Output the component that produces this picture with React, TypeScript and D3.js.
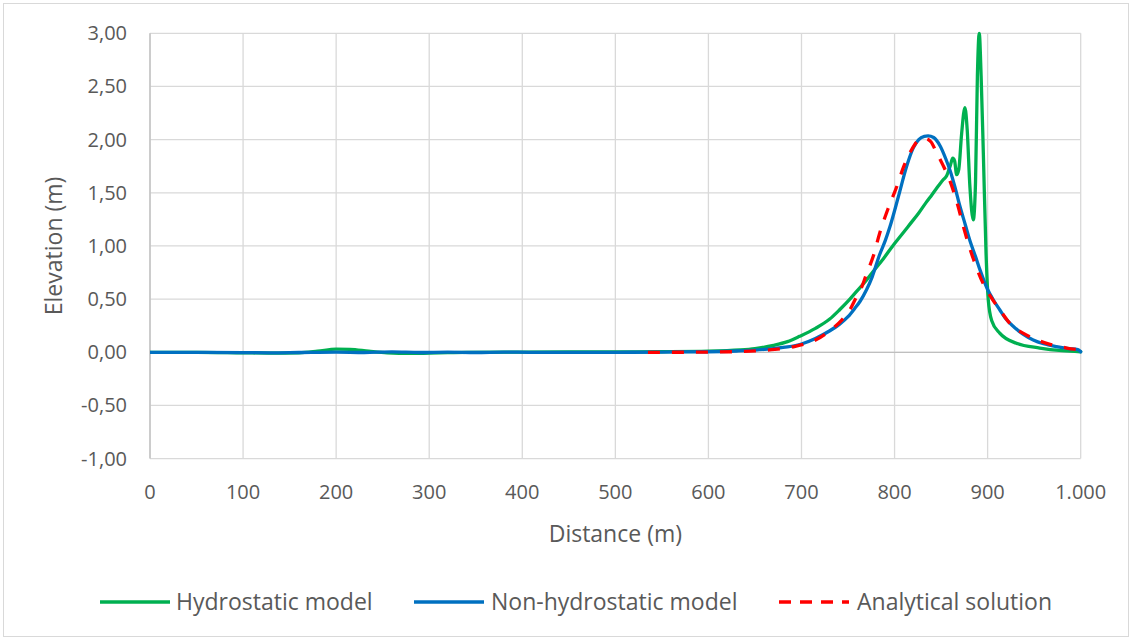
import React from "react";
import * as d3 from "d3";

const W = 1132;
const H = 640;

const xTicks = [0, 100, 200, 300, 400, 500, 600, 700, 800, 900, 1000];
const yTicks = [-1, -0.5, 0, 0.5, 1, 1.5, 2, 2.5, 3];

const seriesNames = ["Hydrostatic model", "Non-hydrostatic model", "Analytical solution"];

// Hydrostatic model (green)
const hydroX = [0, 50, 100, 130, 160, 180, 200, 215, 235, 255, 280, 310, 340, 400, 500, 550, 600, 634, 650, 670, 685, 698, 715, 730, 741, 752, 759, 770, 777, 788, 798, 808, 817, 826, 834, 840, 845, 852, 856, 860, 862.5, 864.5, 866.7, 869, 872, 875.6, 878, 881, 884.6, 887, 889, 891, 893, 895.4, 898.3, 900.7, 904.3, 913, 931, 956, 980, 1000];
const hydroY = [0, 0, -0.005, -0.008, -0.005, 0.01, 0.03, 0.028, 0.01, -0.005, -0.01, -0.005, 0, 0.002, 0.003, 0.005, 0.01, 0.022, 0.035, 0.065, 0.1, 0.15, 0.225, 0.31, 0.4, 0.5, 0.57, 0.68, 0.76, 0.88, 1.0, 1.11, 1.21, 1.31, 1.41, 1.48, 1.54, 1.62, 1.66, 1.76, 1.825, 1.8, 1.67, 1.72, 2.05, 2.3, 2.1, 1.55, 1.245, 1.6, 2.6, 3.0, 2.6, 1.87, 0.93, 0.49, 0.3, 0.18, 0.085, 0.04, 0.015, 0.005];

// Non-hydrostatic model (blue)
const nonHydroX = [0, 50, 100, 130, 160, 200, 230, 260, 290, 320, 350, 380, 410, 450, 500, 550, 600, 630, 650, 670, 685, 700, 715, 730, 741, 750, 757, 763, 770, 776, 784, 790, 795, 804, 813, 820, 826, 832, 836, 842, 849, 855, 860, 865, 870, 876, 881, 887, 892, 900, 907, 913, 920, 928, 938, 949, 960, 974, 987, 997, 1000];
const nonHydroY = [0, 0, -0.003, -0.005, -0.002, 0.002, -0.002, 0.003, -0.002, 0.002, -0.002, 0.002, -0.001, 0, 0, 0.002, 0.005, 0.012, 0.02, 0.035, 0.05, 0.078, 0.13, 0.2, 0.265, 0.335, 0.41, 0.48, 0.59, 0.71, 0.92, 1.05, 1.18, 1.46, 1.75, 1.92, 2.0, 2.03, 2.035, 2.02, 1.94, 1.82, 1.7, 1.55, 1.38, 1.2, 1.05, 0.9, 0.77, 0.59, 0.48, 0.4, 0.31, 0.24, 0.17, 0.115, 0.08, 0.053, 0.035, 0.025, 0.005];

// Analytical solution (red dashed)
const analyticX = [535, 560, 600, 630, 660, 690, 716, 730, 743, 752, 759, 765, 770, 777, 784, 793, 802, 810, 818, 827, 833, 839, 845, 852, 860, 868, 874, 880, 885, 895, 905, 913, 925, 938, 952, 967, 985, 1000];
const analyticY = [0, 0, 0.002, 0.006, 0.018, 0.05, 0.12, 0.2, 0.3, 0.4, 0.52, 0.62, 0.74, 0.9, 1.12, 1.35, 1.55, 1.75, 1.9, 2.0, 2.01, 1.98, 1.88, 1.76, 1.6, 1.38, 1.18, 1.0, 0.87, 0.65, 0.5, 0.4, 0.26, 0.18, 0.12, 0.075, 0.04, 0.02];

const colors = ["#00B050", "#0070C0", "#FF0000"];

const locale = d3.formatLocale({ decimal: ",", thousands: ".", grouping: [3], currency: ["", "€"], minus: "-" });
const fmtY = locale.format(".2f");
const fmtX = locale.format(",d");

const FONT = "'Open Sans', 'Liberation Sans', sans-serif";
const TEXT = "#595959";

export default function App() {
  const x = d3.scaleLinear().domain([0, 1000]).range([150, 1080.7]);
  const y = d3.scaleLinear().domain([-1, 3]).range([458.6, 33.3]);

  const line = d3
    .line<[number, number]>()
    .x((d) => x(d[0]))
    .y((d) => y(d[1]))
    .curve(d3.curveMonotoneX);

  const hydro = hydroX.map((v, i) => [v, hydroY[i]] as [number, number]);
  const nonHydro = nonHydroX.map((v, i) => [v, nonHydroY[i]] as [number, number]);
  const analytic = analyticX.map((v, i) => [v, analyticY[i]] as [number, number]);

  const [x0, x1] = x.range();
  const [yb, yt] = y.range();

  const legendItems = [
    { name: seriesNames[0], color: colors[0], dash: undefined as string | undefined, lx: 100, tx: 176 },
    { name: seriesNames[1], color: colors[1], dash: undefined, lx: 414, tx: 491 },
    { name: seriesNames[2], color: colors[2], dash: "12,9", lx: 779, tx: 857 },
  ];

  return (
    <svg
      width={W}
      height={H}
      style={{ position: "absolute", left: 0, top: 0, background: "#fff" }}
      fontFamily={FONT}
    >
      <rect x={3.5} y={3.5} width={W - 7} height={H - 7} fill="#fff" stroke="#D9D9D9" strokeWidth={1} />
      <defs>
        <clipPath id="plotClip">
          <rect x={x0} y={yt - 2} width={x1 - x0 + 3} height={yb - yt + 2} />
        </clipPath>
      </defs>
      {/* gridlines */}
      {yTicks.map((t) => (
        <line key={"gy" + t} x1={x0} x2={x1} y1={y(t)} y2={y(t)} stroke="#D9D9D9" strokeWidth={1.3} />
      ))}
      {xTicks.map((t) => (
        <line key={"gx" + t} x1={x(t)} x2={x(t)} y1={yt} y2={yb} stroke="#D9D9D9" strokeWidth={1.3} />
      ))}
      <line x1={x0} x2={x0} y1={yt} y2={yb} stroke="#BFBFBF" strokeWidth={1.3} />
      <line x1={x0} x2={x1} y1={y(0)} y2={y(0)} stroke="#BFBFBF" strokeWidth={1.3} />

      {/* tick labels */}
      {yTicks.map((t) => (
        <text key={"ly" + t} x={127} y={y(t)} dy="0.35em" textAnchor="end" fontSize={20} fill={TEXT}>
          {fmtY(t)}
        </text>
      ))}
      {xTicks.map((t) => (
        <text key={"lx" + t} x={x(t)} y={499} textAnchor="middle" fontSize={20} fill={TEXT}>
          {fmtX(t)}
        </text>
      ))}

      {/* axis titles */}
      <text x={(x0 + x1) / 2} y={542} textAnchor="middle" fontSize={23} fill={TEXT}>
        Distance (m)
      </text>
      <text transform={`translate(62, ${(yt + yb) / 2}) rotate(-90)`} textAnchor="middle" fontSize={23} fill={TEXT}>
        Elevation (m)
      </text>

      {/* series */}
      <g clipPath="url(#plotClip)">
        <path d={line(hydro) || ""} fill="none" stroke={colors[0]} strokeWidth={3.3} strokeLinejoin="round" strokeLinecap="round" />
        <path d={line(nonHydro) || ""} fill="none" stroke={colors[1]} strokeWidth={3.3} strokeLinejoin="round" strokeLinecap="round" />
        <path d={line(analytic) || ""} fill="none" stroke={colors[2]} strokeWidth={3.3} strokeDasharray="12,12" strokeLinejoin="round" />
      </g>

      {/* legend */}
      {legendItems.map((it) => (
        <g key={it.name}>
          <line x1={it.lx} x2={it.lx + 70} y1={602} y2={602} stroke={it.color} strokeWidth={3.3} strokeDasharray={it.dash} />
          <text x={it.tx} y={610} fontSize={23} fill={TEXT}>
            {it.name}
          </text>
        </g>
      ))}
    </svg>
  );
}
